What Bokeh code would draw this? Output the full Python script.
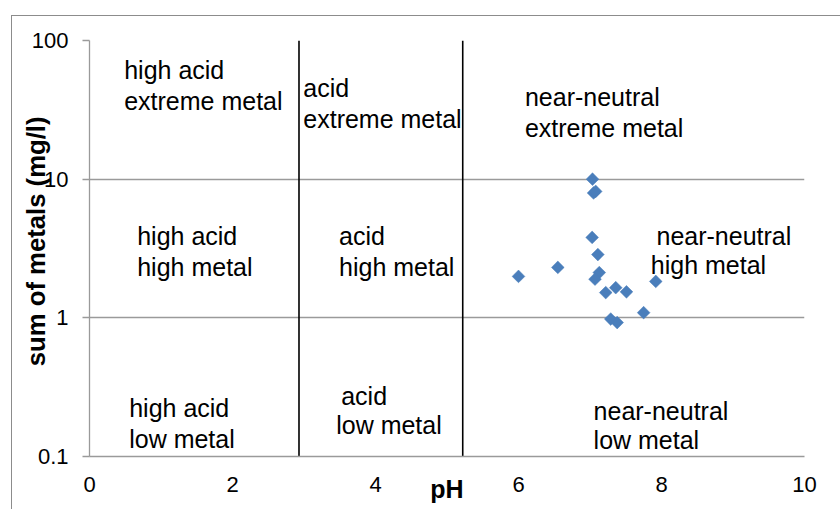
import numpy as np
from bokeh.plotting import figure
from bokeh.models import (Range1d, FixedTicker, ColumnDataSource,
                          CustomJSTickFormatter, InlineStyleSheet)
from bokeh.core.properties import value
from bokeh.embed import file_html
from bokeh.resources import INLINE

# ---- data ----
ph = [7.035, 7.05, 7.08, 7.03, 7.11, 6.00, 6.55, 7.13, 7.07, 7.22, 7.36, 7.51, 7.92, 7.75, 7.29, 7.38]
metals = [10.0, 7.95, 8.16, 3.80, 2.86, 1.99, 2.31, 2.12, 1.90, 1.52, 1.65, 1.54, 1.83, 1.09, 0.98, 0.925]

ph_boundaries = [2.93, 5.22]
x_ticks = [0, 2, 4, 6, 8, 10]
y_ticks = [0.1, 1, 10, 100]
y_tick_labels = ["0.1", "1", "10", "100"]

region_lines = ["high acid", "extreme metal",
                "acid", "extreme metal",
                "near-neutral", "extreme metal",
                "high acid", "high metal",
                "acid", "high metal",
                "near-neutral", "high metal",
                "high acid", "low metal",
                "acid", "low metal",
                "near-neutral", "low metal"]
# label anchor positions (pH, mg/l)
region_x = [0.485, 0.485, 2.99, 2.99, 6.09, 6.09,
            0.667, 0.667, 3.49, 3.49, 7.93, 7.85,
            0.555, 0.555, 3.52, 3.45, 7.05, 7.05]
region_y = [60.8, 36.9, 45.3, 27.3, 39.1, 23.5,
            3.87, 2.33, 3.87, 2.33, 3.88, 2.40,
            0.222, 0.1348, 0.275, 0.1675, 0.2125, 0.1309]

GRAY = "#9a9a9a"
FONT = "Liberation Sans"

border_css = InlineStyleSheet(css="""
:host::after {
  content: "";
  position: absolute;
  left: 11px; top: 15px; right: 0; bottom: 0;
  border-left: 1px solid #8c8c8c;
  border-top: 1px solid #8c8c8c;
  pointer-events: none;
  z-index: 10;
}
""")

p = figure(width=840, height=509, y_axis_type="log",
           x_range=Range1d(0, 10), y_range=Range1d(0.1, 100),
           output_backend="svg", toolbar_location=None,
           min_border_left=89, min_border_right=36,
           min_border_top=40, min_border_bottom=53,
           stylesheets=[border_css])
p.outline_line_color = None
p.background_fill_color = "white"
p.border_fill_color = "white"

# grid
p.xgrid.visible = False
p.ygrid.ticker = FixedTicker(ticks=y_ticks)
p.ygrid.grid_line_color = GRAY
p.ygrid.grid_line_width = 1.3

# axes
p.xaxis.ticker = FixedTicker(ticks=x_ticks)
p.xaxis.axis_line_color = GRAY
p.xaxis.axis_line_width = 1.3
p.xaxis.major_tick_line_color = None
p.xaxis.minor_tick_line_color = None
p.xaxis.major_tick_out = 0
p.xaxis.major_tick_in = 0
p.xaxis.major_label_standoff = 20
p.xaxis.major_label_text_font = FONT
p.xaxis.major_label_text_font_size = "22px"
p.xaxis.major_label_text_color = "black"
p.xaxis.axis_label = "pH"
p.xaxis.axis_label_text_font = FONT
p.xaxis.axis_label_text_font_style = "bold"
p.xaxis.axis_label_text_font_size = "25px"
p.xaxis.axis_label_text_color = "black"
p.xaxis.axis_label_standoff = -20

p.yaxis.ticker = FixedTicker(ticks=y_ticks)
p.yaxis.formatter = CustomJSTickFormatter(
    args=dict(t=y_ticks, l=y_tick_labels),
    code="""
let best = 0;
for (let i = 0; i < t.length; i++) {
  if (Math.abs(Math.log10(t[i]) - Math.log10(tick)) < Math.abs(Math.log10(t[best]) - Math.log10(tick))) best = i;
}
return l[best];
""")
p.yaxis.axis_line_color = GRAY
p.yaxis.axis_line_width = 1.3
p.yaxis.major_tick_line_color = GRAY
p.yaxis.major_tick_line_width = 1.3
p.yaxis.minor_tick_line_color = None
p.yaxis.major_tick_out = 7
p.yaxis.major_tick_in = 0
p.yaxis.major_label_standoff = 14
p.yaxis.major_label_text_font = FONT
p.yaxis.major_label_text_font_size = "22px"
p.yaxis.major_label_text_color = "black"
p.yaxis.axis_label = "\u00a0\u00a0sum of metals (mg/l)"
p.yaxis.axis_label_text_font = FONT
p.yaxis.axis_label_text_font_style = "bold"
p.yaxis.axis_label_text_font_size = "25.7px"
p.yaxis.axis_label_text_color = "black"
p.yaxis.axis_label_standoff = -21

# boundary lines
p.segment(x0=ph_boundaries, x1=ph_boundaries,
          y0=[y_ticks[0]] * len(ph_boundaries), y1=[y_ticks[-1]] * len(ph_boundaries),
          line_color="black", line_width=1.6)

# region labels
p.text(x=region_x, y=region_y, text=region_lines,
       text_font=value(FONT), text_font_size="25px",
       text_align="left", text_baseline="alphabetic", text_color="black")

# data points
src = ColumnDataSource(data=dict(ph=ph, metals=metals))
p.scatter(x="ph", y="metals", source=src, marker="square", size=9, angle=np.pi / 4,
          fill_color="#4a7ebb", line_color="#4a7ebb", line_width=0.5)

open("out.html", "w").write(file_html(p, INLINE))
